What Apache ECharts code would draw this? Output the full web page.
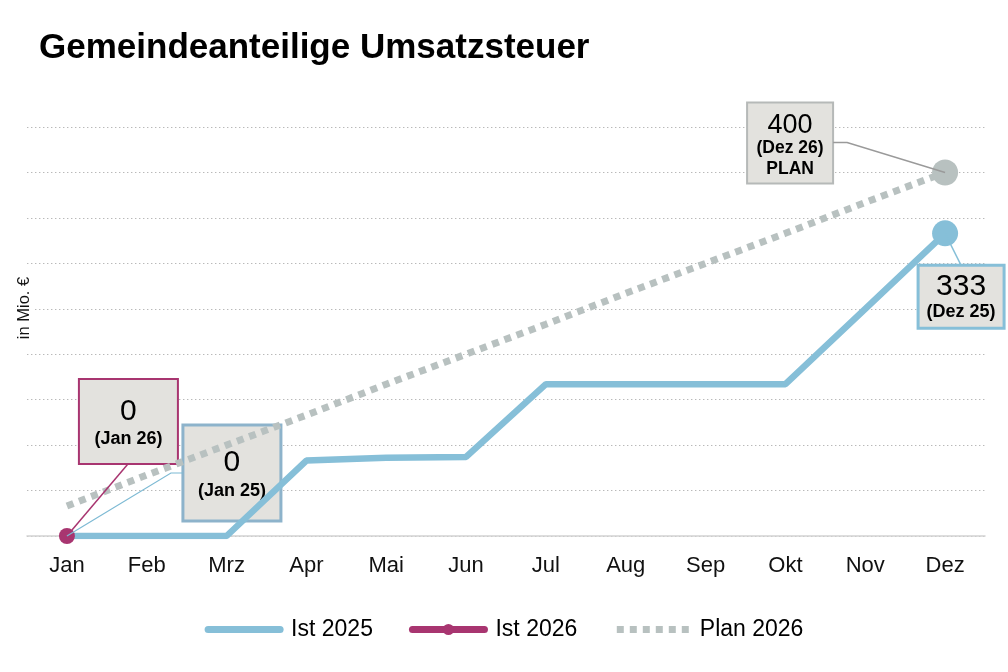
<!DOCTYPE html>
<html>
<head>
<meta charset="utf-8">
<script src="https://cdn.jsdelivr.net/npm/echarts@6/dist/echarts.min.js"></script>
<style>
html,body{margin:0;padding:0;background:#fff;}
#main{width:1008px;height:672px;}
</style>
</head>
<body>
<div id="main"></div>
<script>
const months = ['Jan','Feb','Mrz','Apr','Mai','Jun','Jul','Aug','Sep','Okt','Nov','Dez'];
const ist2025 = [0, 0, 0, 83, 86, 87, 167, 167, 167, 167, 250, 333];
const ist2026 = [0];
const plan2026 = [33, 67, 100, 133, 167, 200, 233, 267, 300, 333, 367, 400];
const yTicks = {min: 0, max: 450, interval: 50};

const C_IST25 = '#86bfd8';
const C_IST26 = '#a83570';
const C_PLAN = '#b8c1c0';
const FONT = 'Liberation Sans, Arial, sans-serif';
const PLAN_DASH = [7, 6];

const chart = echarts.init(document.getElementById('main'), null, {renderer: 'canvas'});

const option = {
  animation: false,
  backgroundColor: '#fff',
  title: {
    text: 'Gemeindeanteilige Umsatzsteuer',
    left: 34, top: 26,
    textStyle: {fontFamily: FONT, fontWeight: 'bold', fontSize: 35, color: '#000'}
  },
  grid: {left: 27, right: 23, top: 127, bottom: 136, containLabel: false},
  legend: {
    bottom: 26, left: 'center',
    itemWidth: 72, itemHeight: 14, itemGap: 36,
    textStyle: {fontFamily: FONT, fontSize: 23, color: '#000', padding: [0, 0, 0, 6]},
    data: [
      {name: 'Ist 2025', itemStyle: {opacity: 0}, lineStyle: {width: 7, color: C_IST25, cap: 'round', type: 'solid'}},
      {name: 'Ist 2026', lineStyle: {width: 7, color: C_IST26, cap: 'round', type: 'solid'}},
      {name: 'Plan 2026', itemStyle: {opacity: 0}, lineStyle: {width: 7, color: C_PLAN, type: PLAN_DASH, cap: 'butt'}}
    ]
  },
  xAxis: {
    type: 'category', data: months, boundaryGap: true,
    axisLine: {show: true, lineStyle: {color: '#d2d2d2', width: 1.5}},
    axisTick: {show: false},
    axisLabel: {fontFamily: FONT, fontSize: 22, color: '#111', margin: 19},
    splitLine: {show: false}
  },
  yAxis: {
    type: 'value', min: yTicks.min, max: yTicks.max, interval: yTicks.interval,
    axisLine: {show: false}, axisTick: {show: false}, axisLabel: {show: false},
    splitLine: {show: true, lineStyle: {color: '#b9b9b9', width: 1.2, type: [1.4, 2.6]}}
  },
  series: [
    {
      name: 'Plan 2026', type: 'line', data: plan2026, symbol: 'none',
      lineStyle: {color: C_PLAN, width: 7, type: PLAN_DASH, cap: 'butt'},
      itemStyle: {color: C_PLAN},
      markPoint: {
        symbol: 'circle', symbolSize: 26, label: {show: false},
        itemStyle: {color: C_PLAN},
        data: [{coord: [months[11], plan2026[11]]}]
      },
      z: 2
    },
    {
      name: 'Ist 2025', type: 'line', data: ist2025, symbol: 'none',
      lineStyle: {color: C_IST25, width: 6.5},
      itemStyle: {color: C_IST25},
      markPoint: {
        symbol: 'circle', symbolSize: 26, label: {show: false},
        itemStyle: {color: C_IST25},
        data: [{coord: [months[11], ist2025[11]]}]
      },
      z: 3
    },
    {
      name: 'Ist 2026', type: 'line', data: ist2026, symbol: 'circle', symbolSize: 16,
      showSymbol: true,
      lineStyle: {color: C_IST26, width: 6.5},
      itemStyle: {color: C_IST26},
      z: 4
    }
  ]
};
chart.setOption(option);

function px(i, v) { return chart.convertToPixel({gridIndex: 0}, [i, v]); }

function box(p, dx, dy, w, h, stroke, lw, lines) {
  const children = [{
    type: 'rect', shape: {x: 0, y: 0, width: w, height: h},
    style: {fill: '#e3e2de', stroke: stroke, lineWidth: lw}
  }];
  lines.forEach(l => children.push({
    type: 'text', x: w / 2, y: l.y,
    style: {text: l.t, fill: '#000', font: (l.b ? 'bold ' : '') + l.s + 'px ' + FONT,
            align: 'center', verticalAlign: 'middle'}
  }));
  return {type: 'group', x: p[0] + dx, y: p[1] + dy, children: children, z: 100};
}
function leader(p, rel, color, w) {
  const pts = [[p[0], p[1]]].concat(rel.map(r => [p[0] + r[0], p[1] + r[1]]));
  return {type: 'polyline', shape: {points: pts}, style: {stroke: color, lineWidth: w, fill: null}, z: 99};
}

const pJan26 = px(0, ist2026[0]);
const pJan25 = px(0, ist2025[0]);
const pDez26 = px(11, plan2026[11]);
const pDez25 = px(11, ist2025[11]);

chart.setOption({
  graphic: [
    {type: 'text', x: 33, y: 308, rotation: Math.PI / 2,
     style: {text: 'in Mio. €', font: '16.5px ' + FONT, fill: '#111', align: 'center', verticalAlign: 'bottom',
             backgroundColor: '#fff', padding: [0, 2, 0, 2]}, z: 50},
    leader(pJan26, [[61, -72]], C_IST26, 1.5),
    leader(pJan25, [[104, -63], [116, -63]], '#7dbad4', 1.2),
    leader(pDez26, [[-98, -30], [-112, -30]], '#9a9a9a', 1.5),
    leader(pDez25, [[16, 32]], C_IST25, 1.5),
    box(pJan26, 12, -157, 99, 85, C_IST26, 2, [
      {t: String(ist2026[0]), s: 30, y: 33},
      {t: '(Jan 26)', s: 18, b: true, y: 60}
    ]),
    box(pJan25, 116, -111, 98, 96, '#8db3cb', 3, [
      {t: String(ist2025[0]), s: 30, y: 38},
      {t: '(Jan 25)', s: 18, b: true, y: 66}
    ]),
    box(pDez26, -198, -70, 86, 81, '#b6b9b8', 2, [
      {t: String(plan2026[11]), s: 27, y: 23},
      {t: '(Dez 26)', s: 17.5, b: true, y: 46},
      {t: 'PLAN', s: 17.5, b: true, y: 67}
    ]),
    box(pDez25, -27, 32, 86, 63, C_IST25, 3, [
      {t: String(ist2025[11]), s: 30, y: 21},
      {t: '(Dez 25)', s: 18, b: true, y: 47}
    ])
  ]
});
</script>
</body>
</html>
